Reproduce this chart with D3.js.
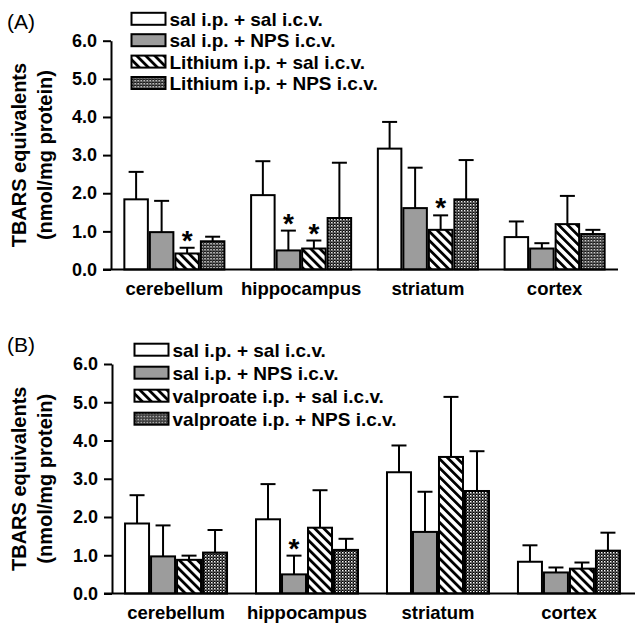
<!DOCTYPE html>
<html>
<head>
<meta charset="utf-8">
<script src="https://cdn.jsdelivr.net/npm/d3@7"></script>
<style>
  body { margin: 0; background: #fff; }
  svg text { font-family: "Liberation Sans", Arial, Helvetica, sans-serif; }
</style>
</head>
<body>
<div id="chart"></div>
<script>
// data (means and upper error, nmol/mg protein)
var regions = ["cerebellum", "hippocampus", "striatum", "cortex"];
var yTicks = [0, 1, 2, 3, 4, 5, 6];

var seriesA = ["sal i.p. + sal i.c.v.", "sal i.p. + NPS i.c.v.", "Lithium i.p. + sal i.c.v.", "Lithium i.p. + NPS i.c.v."];
var meansA = [[1.84, 0.98, 0.42, 0.74], [1.95, 0.50, 0.55, 1.35], [3.17, 1.61, 1.04, 1.84], [0.85, 0.55, 1.19, 0.93]];
var errA   = [[0.72, 0.82, 0.15, 0.12], [0.89, 0.52, 0.21, 1.45], [0.70, 1.06, 0.38, 1.03], [0.41, 0.14, 0.74, 0.11]];
var starA  = [[0, 0, 1, 0], [0, 1, 1, 0], [0, 0, 1, 0], [0, 0, 0, 0]];

var seriesB = ["sal i.p. + sal i.c.v.", "sal i.p. + NPS i.c.v.", "valproate i.p. + sal i.c.v.", "valproate i.p. + NPS i.c.v."];
var meansB = [[1.83, 0.97, 0.88, 1.07], [1.94, 0.50, 1.72, 1.14], [3.17, 1.61, 3.57, 2.68], [0.83, 0.55, 0.65, 1.12]];
var errB   = [[0.74, 0.81, 0.11, 0.59], [0.92, 0.49, 0.98, 0.29], [0.70, 1.05, 1.57, 1.04], [0.43, 0.13, 0.16, 0.47]];
var starB  = [[0, 0, 0, 0], [0, 1, 0, 0], [0, 0, 0, 0], [0, 0, 0, 0]];

var svg = d3.select("#chart")
  .append("svg")
  .attr("width", 635)
  .attr("height", 628);

// fill patterns
var defs = svg.append("defs");
var hatch = defs.append("pattern")
  .attr("id", "hatch")
  .attr("patternUnits", "userSpaceOnUse")
  .attr("width", 6.4)
  .attr("height", 6.4)
  .attr("patternTransform", "rotate(-45)");
hatch.append("rect").attr("width", 6.4).attr("height", 6.4).attr("fill", "#fff");
hatch.append("rect").attr("width", 2.8).attr("height", 6.4).attr("fill", "#000");

var checker = defs.append("pattern")
  .attr("id", "checker")
  .attr("patternUnits", "userSpaceOnUse")
  .attr("width", 3)
  .attr("height", 3);
checker.append("rect").attr("width", 3).attr("height", 3).attr("fill", "#000");
checker.append("rect").attr("width", 1.5).attr("height", 1.5).attr("fill", "#fff");
checker.append("rect").attr("x", 1.5).attr("y", 1.5).attr("width", 1).attr("height", 1).attr("fill", "#fff");

var fills = ["#fff", "#9c9c9c", "url(#hatch)", "url(#checker)"];

function panel(cfg) {
  var g = svg.append("g");

  var x = d3.scaleBand()
    .domain(regions)
    .range([cfg.left, cfg.right])
    .paddingInner(cfg.padIn)
    .paddingOuter(cfg.padOut);

  var xSub = d3.scaleBand()
    .domain(d3.range(4))
    .range([0, x.bandwidth()]);

  var y = d3.scaleLinear()
    .domain([0, 6])
    .range([cfg.bottom, cfg.top]);

  // panel letter
  g.append("text")
    .attr("x", 7)
    .attr("y", cfg.letterY)
    .style("font-size", "21px")
    .text(cfg.letter);

  // y axis
  var yAxis = g.append("g")
    .attr("transform", "translate(" + cfg.left + ",0)")
    .call(d3.axisLeft(y).tickValues(yTicks).tickFormat(d3.format(".1f")).tickSize(8).tickPadding(6).tickSizeOuter(0));
  yAxis.select(".domain").attr("stroke-width", 2);
  yAxis.selectAll(".tick line").attr("stroke-width", 2);
  yAxis.selectAll(".tick text")
    .style("font-size", "18px")
    .style("font-weight", "bold")
    .attr("fill", "#000");

  // y title
  var titleY = (cfg.top + cfg.bottom) / 2;
  g.append("text")
    .attr("transform", "translate(26," + titleY + ")rotate(-90)")
    .attr("text-anchor", "middle")
    .style("font-size", "20px")
    .style("font-weight", "bold")
    .text("TBARS equivalents");
  g.append("text")
    .attr("transform", "translate(52," + titleY + ")rotate(-90)")
    .attr("text-anchor", "middle")
    .style("font-size", "20px")
    .style("font-weight", "bold")
    .text("(nmol/mg protein)");

  // bars
  var groups = g.selectAll(".grp")
    .data(regions)
    .enter().append("g")
    .attr("transform", function(d) { return "translate(" + x(d) + ",0)"; });

  var items = groups.selectAll(".item")
    .data(function(d, i) {
      return d3.range(4).map(function(k) {
        return {k: k, v: cfg.means[i][k], e: cfg.err[i][k], s: cfg.star[i][k]};
      });
    })
    .enter().append("g");

  // error bars first (upper only)
  items.append("line")
    .attr("x1", function(d) { return xSub(d.k) + xSub.bandwidth() / 2; })
    .attr("x2", function(d) { return xSub(d.k) + xSub.bandwidth() / 2; })
    .attr("y1", function(d) { return y(d.v); })
    .attr("y2", function(d) { return y(d.v + d.e); })
    .attr("stroke", "#000")
    .attr("stroke-width", 2);
  items.append("line")
    .attr("x1", function(d) { return xSub(d.k) + xSub.bandwidth() / 2 - 7.5; })
    .attr("x2", function(d) { return xSub(d.k) + xSub.bandwidth() / 2 + 7.5; })
    .attr("y1", function(d) { return y(d.v + d.e); })
    .attr("y2", function(d) { return y(d.v + d.e); })
    .attr("stroke", "#000")
    .attr("stroke-width", 2);

  items.append("rect")
    .attr("x", function(d) { return xSub(d.k) + 1; })
    .attr("y", function(d) { return y(d.v); })
    .attr("width", xSub.bandwidth() - 2)
    .attr("height", function(d) { return y(0) - y(d.v); })
    .attr("fill", function(d) { return fills[d.k]; })
    .attr("stroke", "#000")
    .attr("stroke-width", 2);

  items.filter(function(d) { return d.s; })
    .append("text")
    .attr("x", function(d) { return xSub(d.k) + xSub.bandwidth() / 2; })
    .attr("y", function(d) { return y(d.v + d.e) + 2; })
    .attr("text-anchor", "middle")
    .style("font-size", "28px")
    .style("font-weight", "bold")
    .text("*");

  // baseline
  g.append("line")
    .attr("x1", cfg.left - 8)
    .attr("x2", cfg.lineEnd)
    .attr("y1", y(0))
    .attr("y2", y(0))
    .attr("stroke", "#000")
    .attr("stroke-width", 2);

  // region labels
  g.selectAll(".cat")
    .data(regions)
    .enter().append("text")
    .attr("x", function(d) { return x(d) + x.bandwidth() / 2; })
    .attr("y", y(0) + 25)
    .attr("text-anchor", "middle")
    .style("font-size", "18.5px")
    .style("font-weight", "bold")
    .text(function(d) { return d; });

  // legend
  var leg = g.selectAll(".leg")
    .data(cfg.series)
    .enter().append("g")
    .attr("transform", function(d, i) { return "translate(" + cfg.legX + "," + (cfg.legY + i * cfg.legStep) + ")"; });
  leg.append("rect")
    .attr("x", 0)
    .attr("y", -6)
    .attr("width", 34)
    .attr("height", 12)
    .attr("fill", function(d, i) { return fills[i]; })
    .attr("stroke", "#000")
    .attr("stroke-width", 2);
  leg.append("text")
    .attr("x", 38)
    .attr("y", 7)
    .style("font-size", "19px")
    .style("font-weight", "bold")
    .text(function(d) { return d; });
}

panel({letter: "(A)", letterY: 29, series: seriesA, means: meansA, err: errA, star: starA,
  left: 111, right: 618, lineEnd: 618, padIn: 0.195, padOut: 0.0975,
  top: 40.7, bottom: 269.5, legX: 131.5, legY: 18.8, legStep: 21.4});

panel({letter: "(B)", letterY: 352, series: seriesB, means: meansB, err: errB, star: starB,
  left: 112, right: 633, lineEnd: 635, padIn: 0.206, padOut: 0.092,
  top: 364, bottom: 593.5, legX: 134.5, legY: 349.7, legStep: 23});
</script>
</body>
</html>
